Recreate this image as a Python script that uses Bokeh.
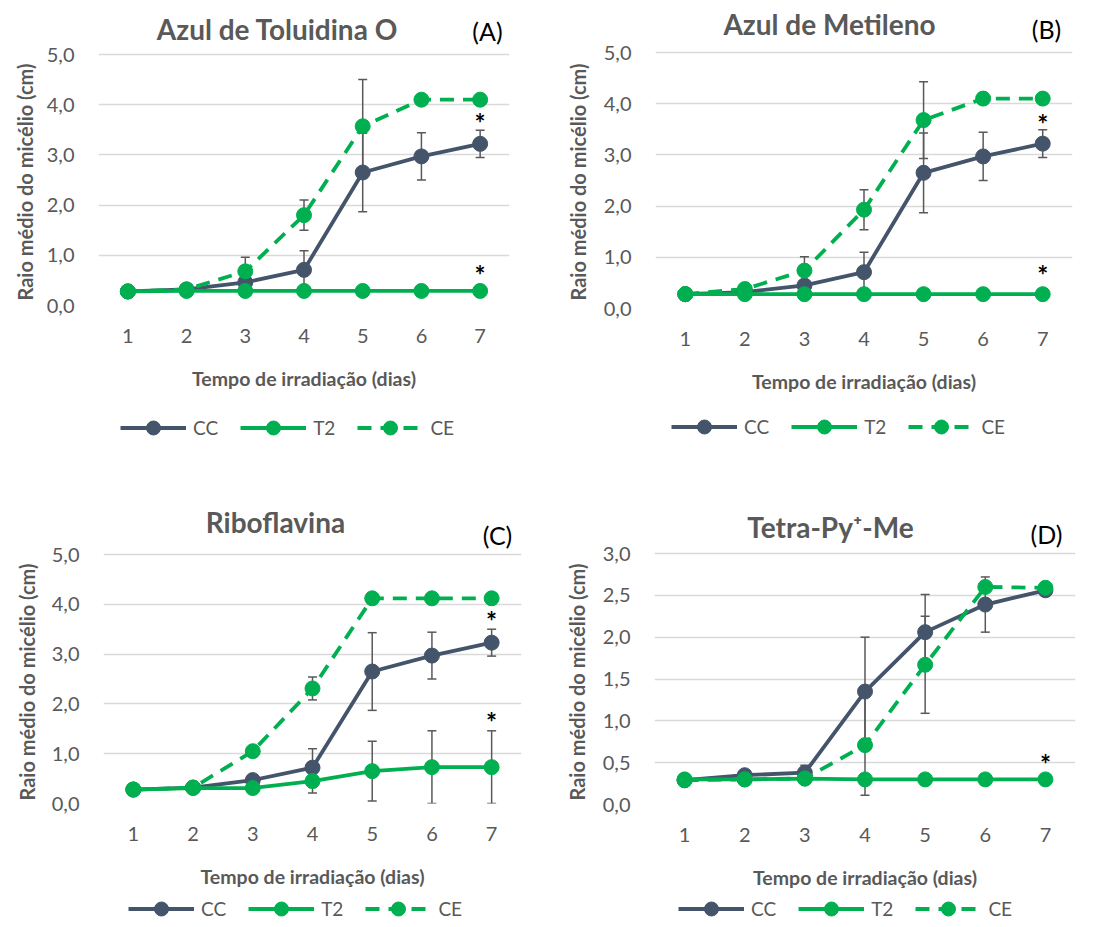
from bokeh.plotting import figure
from bokeh.models import (Range1d, FixedTicker, Whisker, TeeHead, ColumnDataSource,
                          Legend, LegendItem, Label, Title)
from bokeh.layouts import column, row
from bokeh.embed import file_html
from bokeh.resources import INLINE

# ---------------- data ----------------
days = [1, 2, 3, 4, 5, 6, 7]
x_title = "Tempo de irradiação (dias)"
y_title = "Raio médio do micélio (cm)"
series_names = ["CC", "T2", "CE"]

# Panel A
a_title = "Azul de Toluidina O"
a_tag = "(A)"
a_cc = [0.28, 0.32, 0.46, 0.71, 2.65, 2.97, 3.22]
a_cc_err = [0, 0, 0.10, 0.38, 0.78, 0.47, 0.27]
a_t2 = [0.28, 0.29, 0.29, 0.29, 0.29, 0.29, 0.29]
a_t2_err = [0, 0, 0, 0, 0, 0, 0]
a_ce = [0.28, 0.32, 0.68, 1.80, 3.57, 4.10, 4.10]
a_ce_err = [0, 0, 0.28, 0.30, 0.93, 0, 0]
a_stars = [3.75, 0.73]

# Panel B
b_title = "Azul de Metileno"
b_tag = "(B)"
b_cc = [0.28, 0.32, 0.45, 0.71, 2.65, 2.97, 3.22]
b_cc_err = [0, 0, 0.10, 0.39, 0.78, 0.47, 0.27]
b_t2 = [0.28, 0.28, 0.28, 0.28, 0.28, 0.28, 0.28]
b_t2_err = [0, 0, 0, 0, 0, 0, 0]
b_ce = [0.28, 0.38, 0.74, 1.93, 3.68, 4.10, 4.10]
b_ce_err = [0, 0, 0.27, 0.39, 0.75, 0, 0]
b_stars = [3.73, 0.77]

# Panel C
c_title = "Riboflavina"
c_tag = "(C)"
c_cc = [0.28, 0.32, 0.47, 0.72, 2.65, 2.97, 3.23]
c_cc_err = [0, 0, 0.07, 0.38, 0.78, 0.47, 0.27]
c_t2 = [0.28, 0.31, 0.31, 0.45, 0.65, 0.73, 0.73]
c_t2_err = [0, 0, 0, 0.24, 0.60, 0.73, 0.73]
c_ce = [0.28, 0.32, 1.05, 2.31, 4.12, 4.12, 4.12]
c_ce_err = [0, 0, 0, 0.23, 0, 0, 0]
c_stars = [3.79, 1.75]

# Panel D
d_title = "Tetra-Py\u207a-Me"
d_tag = "(D)"
d_cc = [0.29, 0.35, 0.38, 1.35, 2.06, 2.39, 2.56]
d_cc_err = [0, 0, 0.09, 0.65, 0.45, 0.33, 0]
d_t2 = [0.30, 0.30, 0.31, 0.30, 0.30, 0.30, 0.30]
d_t2_err = [0, 0, 0, 0, 0, 0, 0]
d_ce = [0.29, 0.30, 0.31, 0.71, 1.67, 2.60, 2.59]
d_ce_err = [0, 0, 0, 0.60, 0.58, 0, 0]
d_stars = [0.55]

yticks_5 = [0, 1, 2, 3, 4, 5]
ylabels_5 = ["0,0", "1,0", "2,0", "3,0", "4,0", "5,0"]
yticks_3 = [0, 0.5, 1, 1.5, 2, 2.5, 3]
ylabels_3 = ["0,0", "0,5", "1,0", "1,5", "2,0", "2,5", "3,0"]

# ---------------- style ----------------
C_CC = "#44546A"
C_GREEN = "#00B050"
C_TEXT = "#595959"
C_GRID = "#D9D9D9"
FONT = "Lato"
LINE_W = 3.8
MARK = 15
DASH = "14 9"


def make_panel(title, tag, cc, cc_err, t2, t2_err, ce, ce_err, stars,
               yticks, ylabels, lay):
    fb = lay["h"] - lay["b"]                     # frame height (frame starts at top)
    y_end = yticks[-1] * fb / (fb - lay["gt"])
    p = figure(width=lay["w"], height=lay["h"],
               x_range=Range1d(0.5, 7.5), y_range=Range1d(yticks[0], y_end),
               output_backend="svg", toolbar_location=None,
               min_border_left=lay["l"], min_border_right=lay["r"],
               min_border_top=0, min_border_bottom=lay["b"])
    p.outline_line_color = None
    p.xgrid.visible = False
    p.ygrid.grid_line_color = C_GRID
    p.ygrid.grid_line_width = 1.3
    p.ygrid.ticker = FixedTicker(ticks=yticks)

    p.xaxis.ticker = FixedTicker(ticks=days)
    p.yaxis.ticker = FixedTicker(ticks=yticks)
    p.yaxis.major_label_overrides = {t: s for t, s in zip(yticks, ylabels)}
    for ax in (p.xaxis[0], p.yaxis[0]):
        ax.axis_line_color = None
        ax.major_tick_line_color = None
        ax.minor_tick_line_color = None
        ax.major_label_text_font = FONT
        ax.major_label_text_font_size = "20px"
        ax.major_label_text_color = C_TEXT
        ax.axis_label_text_font = FONT
        ax.axis_label_text_font_size = "19.5px"
        ax.axis_label_text_font_style = "bold"
        ax.axis_label_text_color = C_TEXT
    p.xaxis.axis_label = x_title
    p.xaxis.major_label_standoff = 17
    p.xaxis.axis_label_standoff = 21
    p.yaxis.major_tick_out = 0
    p.yaxis.major_label_standoff = 24

    p.add_layout(Title(text=y_title, align="left", offset=lay["yo"], standoff=lay["ys"],
                       text_font=FONT, text_font_size="20px", text_font_style="bold",
                       text_color=C_TEXT), "left")

    p.add_layout(Label(x=lay["ttl"][0], y=lay["ttl"][1], x_units="screen", y_units="screen",
                       text=title, text_align="center", text_baseline="middle",
                       text_font=FONT, text_font_size="28px", text_font_style="bold",
                       text_color=C_TEXT))
    p.add_layout(Label(x=lay["tag"][0], y=lay["tag"][1], x_units="screen", y_units="screen",
                       text=tag, text_align="center", text_baseline="middle",
                       text_font=FONT, text_font_size="25px", text_color="black"))

    def errbars(vals, errs):
        xs = [d for d, e in zip(days, errs) if e > 0]
        up = [v + e for v, e in zip(vals, errs) if e > 0]
        lo = [max(v - e, 0) for v, e in zip(vals, errs) if e > 0]
        if not xs:
            return
        src = ColumnDataSource(dict(x=xs, upper=up, lower=lo))
        w = Whisker(source=src, base="x", upper="upper", lower="lower",
                    line_color=C_TEXT, line_width=1.5,
                    upper_head=TeeHead(size=9, line_color=C_TEXT, line_width=1.5),
                    lower_head=TeeHead(size=9, line_color=C_TEXT, line_width=1.5))
        p.add_layout(w)

    errbars(cc, cc_err)
    errbars(t2, t2_err)
    errbars(ce, ce_err)

    def draw(fig):
        r = []
        r.append([fig.line(days, cc, line_color=C_CC, line_width=LINE_W),
                  fig.scatter(days, cc, size=MARK, fill_color=C_CC, line_color=C_CC)])
        r.append([fig.line(days, t2, line_color=C_GREEN, line_width=LINE_W),
                  fig.scatter(days, t2, size=MARK, fill_color=C_GREEN, line_color=C_GREEN)])
        r.append([fig.line(days, ce, line_color=C_GREEN, line_width=LINE_W, line_dash=DASH),
                  fig.scatter(days, ce, size=MARK, fill_color=C_GREEN, line_color=C_GREEN)])
        return r

    draw(p)

    for sy in stars:
        p.add_layout(Label(x=7, y=sy, y_offset=-6, text="*", text_align="center",
                           text_baseline="middle", text_font=FONT, text_font_size="26px",
                           text_font_style="bold", text_color="black"))

    # legend strip below the chart: same series, drawn outside its visible x range
    lg = figure(width=lay["w"], height=lay["lh"], x_range=Range1d(-1, 0), y_range=Range1d(0, 1),
                x_axis_type=None, y_axis_type=None, output_backend="svg",
                toolbar_location=None, min_border=0)
    lg.outline_line_color = None
    keys = draw(lg)
    legend = Legend(items=[LegendItem(label=n, renderers=k) for n, k in zip(series_names, keys)],
                    orientation="horizontal", location=(lay["lx"], lay["ly"]),
                    glyph_width=66, glyph_height=35, label_standoff=7, spacing=22,
                    padding=0, margin=0, border_line_color=None,
                    background_fill_alpha=0, label_text_font=FONT,
                    label_text_font_size="19px", label_text_color=C_TEXT)
    lg.add_layout(legend)
    return column(p, lg)


lay_a = dict(w=550, h=400, l=98, r=41, b=95, gt=54, ttl=(179, 277), tag=(389, 275),
             yo=5, ys=14, lh=60, lx=22, ly=15)
lay_b = dict(w=554, h=400, l=105, r=32, b=92, gt=52, ttl=(174, 285), tag=(391, 280),
             yo=8, ys=22, lh=60, lx=16, ly=16)
lay_c = dict(w=550, h=430, l=103, r=29, b=87, gt=94, ttl=(172, 282), tag=(394, 269),
             yo=3, ys=20, lh=36, lx=25, ly=0)
lay_d = dict(w=554, h=431, l=104, r=29, b=87, gt=93, ttl=(176, 278), tag=(392, 271),
             yo=4, ys=21, lh=35, lx=24, ly=0)

pa = make_panel(a_title, a_tag, a_cc, a_cc_err, a_t2, a_t2_err, a_ce, a_ce_err, a_stars,
                yticks_5, ylabels_5, lay_a)
pb = make_panel(b_title, b_tag, b_cc, b_cc_err, b_t2, b_t2_err, b_ce, b_ce_err, b_stars,
                yticks_5, ylabels_5, lay_b)
pc = make_panel(c_title, c_tag, c_cc, c_cc_err, c_t2, c_t2_err, c_ce, c_ce_err, c_stars,
                yticks_5, ylabels_5, lay_c)
pd_ = make_panel(d_title, d_tag, d_cc, d_cc_err, d_t2, d_t2_err, d_ce, d_ce_err, d_stars,
                 yticks_3, ylabels_3, lay_d)

layout = column(row(pa, pb), row(pc, pd_))
open("out.html", "w").write(file_html(layout, INLINE))
